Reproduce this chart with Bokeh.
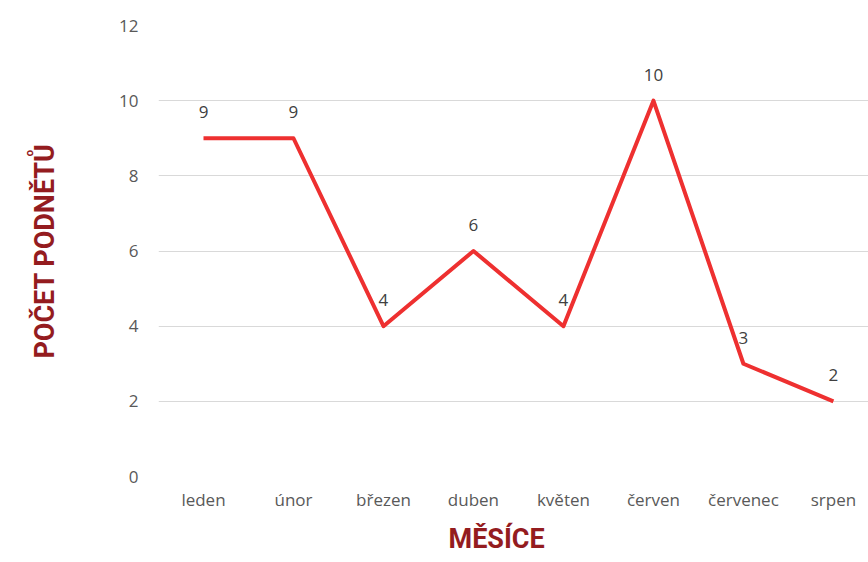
from bokeh.plotting import figure
from bokeh.models import Range1d, FixedTicker, Title, ColumnDataSource
from bokeh.core.properties import value
from bokeh.embed import file_html
from bokeh.resources import INLINE

months = ["leden", "únor", "březen", "duben", "květen", "červen", "červenec", "srpen"]
counts = [9, 9, 4, 6, 4, 10, 3, 2]
y_ticks = [0, 2, 4, 6, 8, 10, 12]

idx = list(range(len(months)))
src = ColumnDataSource(dict(x=idx, y=counts, lbl=[str(c) for c in counts]))

p = figure(width=868, height=562, output_backend="svg", toolbar_location=None,
           x_range=Range1d(-0.5, 7.39), y_range=Range1d(0, 12),
           min_border_left=158, min_border_right=0, min_border_top=25,
           min_border_bottom=86)
p.outline_line_color = None
p.xgrid.visible = False
p.ygrid.grid_line_color = "#D9D9D9"
p.ygrid.grid_line_width = 1

p.line("x", "y", source=src, line_width=4, line_color="#EE3030", line_join="round")
p.text("x", "y", text="lbl", source=src, y_offset=-26, text_align="center",
       text_baseline="middle", text_font=value("Open Sans"), text_font_size="17px",
       text_color="#404040")

xa = p.xaxis[0]
xa.ticker = FixedTicker(ticks=idx)
xa.major_label_overrides = {i: m for i, m in zip(idx, months)}
xa.axis_line_color = None
xa.major_tick_line_color = None
xa.minor_tick_line_color = None
xa.major_label_standoff = 5
xa.major_label_text_font = "Open Sans"
xa.major_label_text_font_size = "17px"
xa.major_label_text_color = "#595959"

ya = p.yaxis[0]
ya.ticker = FixedTicker(ticks=y_ticks)
ya.axis_line_color = None
ya.major_tick_line_color = None
ya.minor_tick_line_color = None
ya.major_label_standoff = 14
ya.major_label_text_font = "Open Sans"
ya.major_label_text_font_size = "17px"
ya.major_label_text_color = "#595959"
ya.axis_label = "POČET PODNĚTŮ"
ya.axis_label_text_font = "Roboto"
ya.axis_label_text_font_size = "27px"
ya.axis_label_text_font_style = "bold"
ya.axis_label_text_color = "#941C1F"
ya.axis_label_standoff = 55

xt = Title(text="MĚSÍCE", align="left", offset=290, standoff=14,
           text_font="Roboto", text_font_size="27px", text_font_style="bold",
           text_color="#941C1F")
p.add_layout(xt, "below")

open("out.html", "w").write(file_html(p, INLINE))
